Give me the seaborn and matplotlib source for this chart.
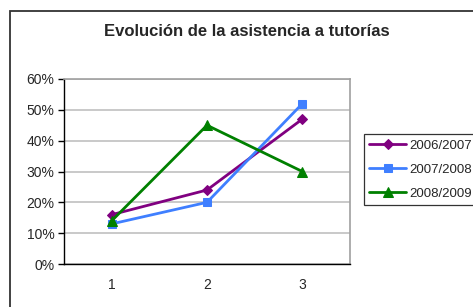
import matplotlib
matplotlib.use("Agg")
import matplotlib.pyplot as plt
import seaborn as sns
import pandas as pd
from matplotlib.patches import Rectangle
from matplotlib.ticker import PercentFormatter, FixedLocator

title = "Evolución de la asistencia a tutorías"
categories = [1, 2, 3]
series_names = ["2006/2007", "2007/2008", "2008/2009"]
s2006 = [0.16, 0.24, 0.47]
s2007 = [0.13, 0.20, 0.52]
s2008 = [0.14, 0.45, 0.30]
values = [s2006, s2007, s2008]
colors = ["#800080", "#3f7fff", "#008000"]
markers = ["D", "s", "^"]
msizes = [5, 6, 7]

sns.set_style("white")
plt.rcParams["font.family"] = ["Liberation Sans", "DejaVu Sans"]

W, H = 473, 307
fig = plt.figure(figsize=(W / 100, H / 100), dpi=100)
ax = fig.add_axes([64 / W, 1 - 264 / H, 286 / W, 185 / H])

for name, vals, c, m, ms in zip(series_names, values, colors, markers, msizes):
    df = pd.DataFrame({"x": categories, "y": vals})
    sns.lineplot(data=df, x="x", y="y", ax=ax, color=c, marker=m,
                 markersize=ms, markeredgecolor=c, linewidth=2, label=name)

ax.set_xlim(0.5, 3.5)
ax.set_ylim(0, 0.6)
ax.set_yticks([0, 0.1, 0.2, 0.3, 0.4, 0.5, 0.6])
ax.yaxis.set_major_formatter(PercentFormatter(1.0, decimals=0))
ax.set_xticks(categories)
ax.set_xticklabels([str(c) for c in categories])
ax.xaxis.set_minor_locator(FixedLocator([0.5, 1.5, 2.5, 3.5]))
ax.tick_params(axis="x", which="major", length=0, pad=10, labelsize=10)
ax.tick_params(axis="x", which="minor", length=4, width=1, color="black", direction="out")
ax.tick_params(axis="y", which="major", length=4, width=1, color="black", direction="out",
               labelsize=10, pad=3, left=True)
ax.set_xlabel("")
ax.set_ylabel("")
ax.grid(axis="y", color="#c0c0c0", linewidth=1.2)
ax.set_axisbelow(True)
for side in ["top", "right"]:
    ax.spines[side].set_color("#a0a0a0")
    ax.spines[side].set_linewidth(1.2)
for side in ["left", "bottom"]:
    ax.spines[side].set_color("black")
    ax.spines[side].set_linewidth(1)

ax.get_legend().remove()
handles, labels = ax.get_legend_handles_labels()
leg = fig.legend(handles, labels, loc="upper left",
                 bbox_to_anchor=(364 / W, 1 - 134 / H), frameon=True,
                 fancybox=False, edgecolor="black", fontsize=9.5,
                 handlelength=2.8, handletextpad=0.25, borderpad=0.4,
                 labelspacing=0.9, borderaxespad=0)
leg.get_frame().set_linewidth(0.9)

fig.text(247 / W, 1 - 31 / H, title, ha="center", va="center",
         fontsize=12, fontweight="bold")

fig.patches.append(Rectangle((10 / W, -0.1), 1.0, 1 - 11 / H + 0.1,
                             transform=fig.transFigure, fill=False,
                             edgecolor="#333333", linewidth=1.3))

fig.savefig("out.png", dpi=100)
